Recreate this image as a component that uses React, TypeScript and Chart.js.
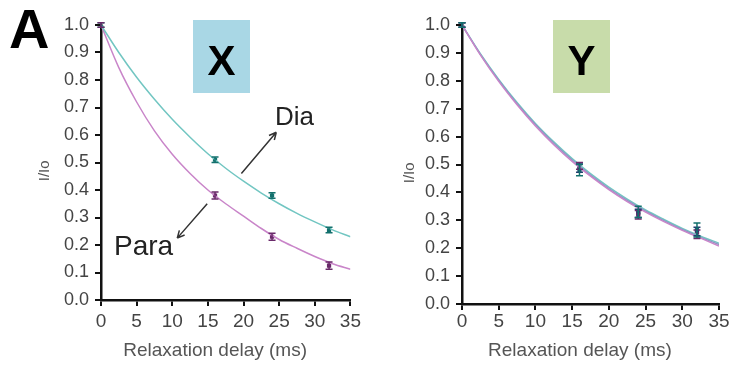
import React, { useEffect, useRef } from "react";
import { Chart, registerables } from "chart.js";

Chart.register(...registerables);

// ---------- data ----------
const curveX = [0, 2.5, 5, 7.5, 10, 12.5, 15, 17.5, 20, 22.5, 25, 27.5, 30, 32.5, 35];
const pointX = [0, 16, 24, 32];

// Panel X
const xDiaCurve = [1.0, 0.9, 0.81, 0.73, 0.657, 0.592, 0.532, 0.479, 0.432, 0.389, 0.35, 0.315, 0.284, 0.255, 0.23];
const xParaCurve = [1.0, 0.845, 0.72, 0.615, 0.53, 0.46, 0.4, 0.35, 0.305, 0.26, 0.22, 0.188, 0.158, 0.132, 0.112];
const xDiaPoints = [1.0, 0.51, 0.38, 0.255];
const xDiaErr = [0.008, 0.01, 0.01, 0.01];
const xParaPoints = [1.0, 0.38, 0.23, 0.125];
const xParaErr = [0.008, 0.013, 0.013, 0.013];

// Panel Y
const yTealCurve = [1.0, 0.897, 0.805, 0.722, 0.647, 0.581, 0.521, 0.467, 0.419, 0.376, 0.337, 0.303, 0.271, 0.243, 0.218];
const yBlueCurve = [1.0, 0.895, 0.802, 0.718, 0.643, 0.576, 0.516, 0.462, 0.414, 0.371, 0.333, 0.299, 0.267, 0.239, 0.213];
const yMagentaCurve = [1.0, 0.893, 0.798, 0.714, 0.638, 0.571, 0.511, 0.458, 0.41, 0.367, 0.329, 0.295, 0.264, 0.236, 0.208];
const yTealPoints = [1.0, 0.48, 0.33, 0.265];
const yTealErr = [0.008, 0.02, 0.02, 0.025];
const yBluePoints = [1.0, 0.487, 0.325, 0.26];
const yBlueErr = [0.008, 0.015, 0.015, 0.015];
const yPurplePoints = [1.0, 0.495, 0.32, 0.25];
const yPurpleErr = [0.008, 0.012, 0.015, 0.015];

// Annotation arrows (data coordinates): [x0, y0, x1, y1]
const diaArrow = [19.7, 0.46, 24.6, 0.61];
const paraArrow = [14.9, 0.35, 10.7, 0.225];

const X_TITLE = "Relaxation delay (ms)";
const Y_TITLE = "I/Io";

const FONT = "'Liberation Sans', Arial, sans-serif";

const TEAL_LINE = "#72c6c2";
const TEAL_MARK = "#13706d";
const PURPLE_LINE = "#c985c9";
const PURPLE_MARK = "#6a2a6a";
const BLUE_LINE = "#8d98c4";
const BLUE_MARK = "#233f70";

type Panel = {
  curves: { ys: number[]; color: string }[];
  points: { ys: number[]; err: number[]; color: string }[];
  yAxisWidth: number;
  xAxisHeight: number;
  xTickPad: number;
  overlay: (ctx: CanvasRenderingContext2D, chart: any) => void;
};

function arrow(ctx: CanvasRenderingContext2D, chart: any, a: number[]) {
  const xs = chart.scales.x;
  const ys = chart.scales.y;
  const x0 = xs.getPixelForValue(a[0]);
  const y0 = ys.getPixelForValue(a[1]);
  const x1 = xs.getPixelForValue(a[2]);
  const y1 = ys.getPixelForValue(a[3]);
  ctx.save();
  ctx.strokeStyle = "#333";
  ctx.lineWidth = 1.5;
  ctx.beginPath();
  ctx.moveTo(x0, y0);
  ctx.lineTo(x1, y1);
  const ang = Math.atan2(y1 - y0, x1 - x0);
  const h = 8;
  ctx.moveTo(x1, y1);
  ctx.lineTo(x1 - h * Math.cos(ang - 0.45), y1 - h * Math.sin(ang - 0.45));
  ctx.moveTo(x1, y1);
  ctx.lineTo(x1 - h * Math.cos(ang + 0.45), y1 - h * Math.sin(ang + 0.45));
  ctx.stroke();
  ctx.restore();
}

function label(ctx: CanvasRenderingContext2D, text: string, x: number, y: number, font: string, color: string, align: CanvasTextAlign = "left") {
  ctx.save();
  ctx.font = font;
  ctx.fillStyle = color;
  ctx.textAlign = align;
  ctx.textBaseline = "alphabetic";
  ctx.fillText(text, x, y);
  ctx.restore();
}

const panelX: Panel = {
  curves: [
    { ys: xDiaCurve, color: TEAL_LINE },
    { ys: xParaCurve, color: PURPLE_LINE },
  ],
  points: [
    { ys: xDiaPoints, err: xDiaErr, color: TEAL_MARK },
    { ys: xParaPoints, err: xParaErr, color: PURPLE_MARK },
  ],
  yAxisWidth: 101,
  xAxisHeight: 69,
  xTickPad: 4,
  overlay: (ctx, chart) => {
    label(ctx, "A", 9, 48, `bold 56px ${FONT}`, "#000");
    ctx.save();
    ctx.fillStyle = "#a9d7e5";
    ctx.fillRect(193, 20, 57, 73);
    ctx.restore();
    label(ctx, "X", 221.5, 75, `bold 42px ${FONT}`, "#000", "center");
    label(ctx, "Dia", 275, 125, `26px ${FONT}`, "#222");
    label(ctx, "Para", 114, 255, `28px ${FONT}`, "#222");
    arrow(ctx, chart, diaArrow);
    arrow(ctx, chart, paraArrow);
  },
};

const panelY: Panel = {
  curves: [
    { ys: yMagentaCurve, color: PURPLE_LINE },
    { ys: yBlueCurve, color: BLUE_LINE },
    { ys: yTealCurve, color: TEAL_LINE },
  ],
  points: [
    { ys: yPurplePoints, err: yPurpleErr, color: PURPLE_MARK },
    { ys: yBluePoints, err: yBlueErr, color: BLUE_MARK },
    { ys: yTealPoints, err: yTealErr, color: TEAL_MARK },
  ],
  yAxisWidth: 97,
  xAxisHeight: 65,
  xTickPad: 0,
  overlay: (ctx) => {
    ctx.save();
    ctx.fillStyle = "#c8dcaa";
    ctx.fillRect(188, 20, 57, 73);
    ctx.restore();
    label(ctx, "Y", 216.5, 75, `bold 42px ${FONT}`, "#000", "center");
  },
};

function PanelChart({ panel, left, width }: { panel: Panel; left: number; width: number }) {
  const ref = useRef<HTMLCanvasElement | null>(null);
  useEffect(() => {
    if (!ref.current) return;
    const datasets: any[] = [];
    panel.curves.forEach((c) => {
      datasets.push({
        type: "line",
        data: curveX.map((x, i) => ({ x, y: c.ys[i] })),
        borderColor: c.color,
        borderWidth: 1.5,
        pointRadius: 0,
        cubicInterpolationMode: "monotone",
        fill: false,
      });
    });
    panel.points.forEach((p) => {
      datasets.push({
        type: "scatter",
        data: pointX.map((x, i) => ({ x, y: p.ys[i] })),
        errors: p.err,
        backgroundColor: p.color,
        borderColor: p.color,
        pointStyle: "rect",
        pointRadius: 3,
        borderWidth: 0,
      });
    });

    const errorPlugin = {
      id: "errbars",
      afterDatasetsDraw(chart: any) {
        const ctx = chart.ctx;
        const xs = chart.scales.x;
        const ys = chart.scales.y;
        chart.data.datasets.forEach((ds: any) => {
          if (!ds.errors) return;
          ctx.save();
          ctx.strokeStyle = ds.borderColor;
          ctx.lineWidth = 1.5;
          ds.data.forEach((pt: any, i: number) => {
            const e = ds.errors[i];
            const px = xs.getPixelForValue(pt.x);
            const top = ys.getPixelForValue(pt.y + e);
            const bot = ys.getPixelForValue(pt.y - e);
            ctx.beginPath();
            ctx.moveTo(px, top);
            ctx.lineTo(px, bot);
            ctx.moveTo(px - 3.5, top);
            ctx.lineTo(px + 3.5, top);
            ctx.moveTo(px - 3.5, bot);
            ctx.lineTo(px + 3.5, bot);
            ctx.stroke();
          });
          ctx.restore();
        });
      },
      afterDraw(chart: any) {
        panel.overlay(chart.ctx, chart);
      },
    };

    const chart = new Chart(ref.current, {
      type: "scatter",
      data: { datasets },
      plugins: [errorPlugin],
      options: {
        responsive: false,
        animation: false,
        devicePixelRatio: 1,
        layout: { padding: { left: 0, top: 25, right: 12, bottom: 0 } },
        plugins: { legend: { display: false }, tooltip: { enabled: false } },
        scales: {
          x: {
            type: "linear",
            min: 0,
            max: 35,
            ticks: {
              stepSize: 5,
              color: "#444",
              font: { family: FONT, size: 19 },
              padding: panel.xTickPad,
              maxRotation: 0,
              autoSkip: false,
            },
            grid: { drawOnChartArea: false, drawTicks: true, tickLength: 6, color: "#111", lineWidth: 2 },
            border: { display: true, color: "#111", width: 2.5 },
            title: {
              display: true,
              text: X_TITLE + "    ",
              color: "#555",
              font: { family: FONT, size: 19 },
              padding: { top: 0, bottom: 7 },
            },
            afterFit: (s: any) => {
              s.height = panel.xAxisHeight;
            },
          },
          y: {
            type: "linear",
            min: 0,
            max: 1,
            ticks: {
              stepSize: 0.1,
              color: "#444",
              font: { family: FONT, size: 18 },
              padding: 6,
              callback: (v: any) => Number(v).toFixed(1),
            },
            grid: { drawOnChartArea: false, drawTicks: true, tickLength: 6, color: "#111", lineWidth: 2 },
            border: { display: true, color: "#111", width: 2.5 },
            title: {
              display: true,
              text: Y_TITLE + "    ",
              color: "#555",
              font: { family: FONT, size: 15 },
              padding: { top: 36, bottom: 0 },
            },
            afterFit: (s: any) => {
              s.width = panel.yAxisWidth;
            },
          },
        },
      } as any,
    });
    return () => chart.destroy();
  }, [panel]);
  return (
    <canvas
      ref={ref}
      width={width}
      height={369}
      style={{ position: "absolute", left, top: 0, width, height: 369, display: "block" }}
    />
  );
}

export default function App() {
  useEffect(() => {
    document.body.style.margin = "0";
  }, []);
  return (
    <div style={{ position: "relative", width: 731, height: 369, background: "#fff", overflow: "hidden" }}>
      <PanelChart panel={panelX} left={0} width={365} />
      <PanelChart panel={panelY} left={365} width={366} />
    </div>
  );
}
